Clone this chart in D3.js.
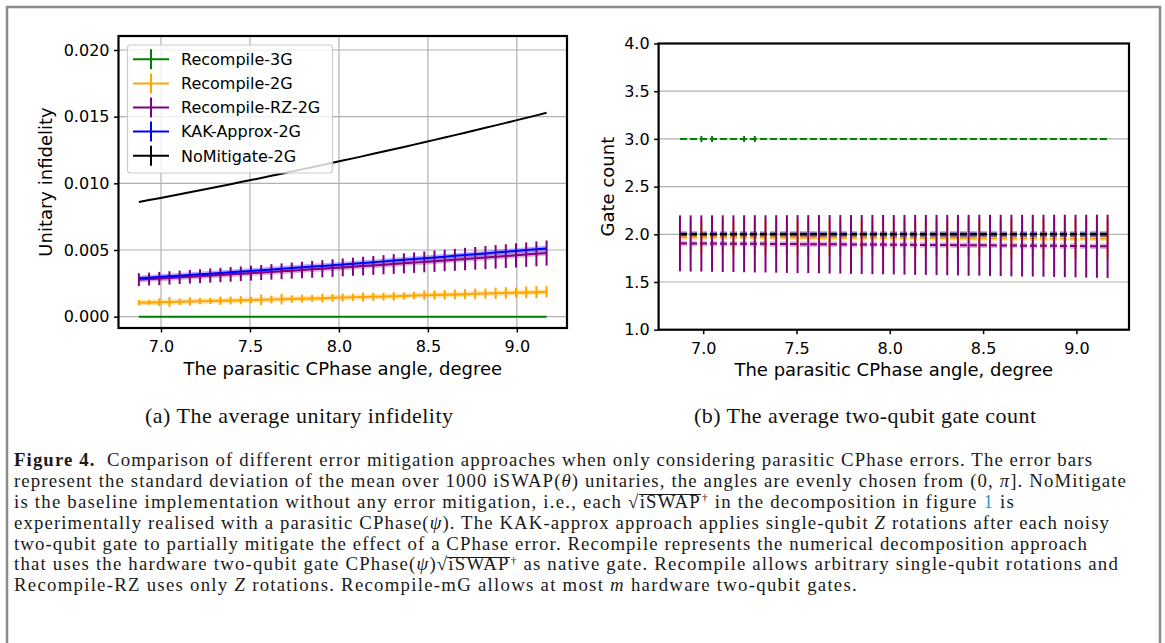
<!DOCTYPE html>
<html>
<head>
<meta charset="utf-8">
<script src="https://cdn.jsdelivr.net/npm/d3@7"></script>
<style>
  html, body { margin: 0; padding: 0; background: #fff; }
  #wrap { position: relative; width: 1165px; height: 643px; overflow: hidden; }
  svg { position: absolute; left: 0; top: 0; }
  .capline {
    position: absolute; left: 14px; white-space: nowrap; height: 20px;
    font-family: "Liberation Serif", "Times New Roman", serif;
    font-size: 18.8px; line-height: 20px; color: #1a1a1a;
  }
  .capline b, .capline i, .capline .ov, .capline .ref { display: inline-block; line-height: 20px; }
  .capline i { font-style: italic; }
  .capline .ov { position: relative; }
  .capline .ov::before {
    content: ""; position: absolute; left: -1px; right: 0; top: 2.6px;
    border-top: 1px solid #1a1a1a;
  }
  .capline .dag { display: inline-block; position: relative; top: -0.58em; font-size: 0.6em; line-height: 0; margin-left: 1px; }
  .capline .ref { color: #2a95d4; }
</style>
</head>
<body>
<div id="wrap">
  <svg id="fig" width="1165" height="643"></svg>
</div>
<script>
// Parasitic CPhase angle (degrees), 41 evenly spaced settings
const angleDeg = [6.8755, 6.9328, 6.9901, 7.0474, 7.1047, 7.1620, 7.2193, 7.2766, 7.3339, 7.3912,
  7.4485, 7.5058, 7.5631, 7.6204, 7.6776, 7.7349, 7.7922, 7.8495, 7.9068, 7.9641,
  8.0214, 8.0787, 8.1360, 8.1933, 8.2506, 8.3079, 8.3652, 8.4225, 8.4798, 8.5371,
  8.5944, 8.6517, 8.7090, 8.7663, 8.8236, 8.8808, 8.9381, 8.9954, 9.0527, 9.1100, 9.1673];

const seriesNames = ["Recompile-3G", "Recompile-2G", "Recompile-RZ-2G", "KAK-Approx-2G", "NoMitigate-2G"];
const seriesColors = ["#008000", "#ffa500", "#800080", "#0000ff", "#000000"];

const xTicks = [7.0, 7.5, 8.0, 8.5, 9.0];
const infidTicks = [0.000, 0.005, 0.010, 0.015, 0.020];
const gateTicks = [1.0, 1.5, 2.0, 2.5, 3.0, 3.5, 4.0];

// (a) average unitary infidelity and its standard deviation
const infid3G = [0, 0, 0, 0, 0, 0, 0, 0, 0, 0, 0, 0, 0, 0, 0, 0, 0, 0, 0, 0, 0,
  0, 0, 0, 0, 0, 0, 0, 0, 0, 0, 0, 0, 0, 0, 0, 0, 0, 0, 0, 0];
const infid3GErr = [0, 0, 0, 0, 0, 0, 0, 0, 0, 0, 0, 0, 0, 0, 0, 0, 0, 0, 0, 0, 0,
  0, 0, 0, 0, 0, 0, 0, 0, 0, 0, 0, 0, 0, 0, 0, 0, 0, 0, 0, 0];
const infid2G = [0.00105, 0.00107, 0.00108, 0.00110, 0.00112, 0.00114, 0.00116, 0.00118, 0.00119, 0.00121,
  0.00123, 0.00125, 0.00127, 0.00129, 0.00131, 0.00133, 0.00135, 0.00137, 0.00139, 0.00141,
  0.00143, 0.00145, 0.00147, 0.00149, 0.00151, 0.00153, 0.00155, 0.00158, 0.00160, 0.00162,
  0.00164, 0.00166, 0.00169, 0.00171, 0.00173, 0.00175, 0.00178, 0.00180, 0.00182, 0.00184, 0.00187];
const infid2GErr = [0.00020, 0.00017, 0.00029, 0.00037, 0.00024, 0.00032, 0.00024, 0.00023, 0.00032, 0.00030,
  0.00031, 0.00024, 0.00041, 0.00029, 0.00040, 0.00028, 0.00030, 0.00026, 0.00033, 0.00029,
  0.00030, 0.00027, 0.00034, 0.00031, 0.00029, 0.00033, 0.00028, 0.00029, 0.00036, 0.00035,
  0.00037, 0.00037, 0.00038, 0.00040, 0.00039, 0.00043, 0.00043, 0.00038, 0.00045, 0.00046, 0.00043];
const infidRZ = [0.002780, 0.002822, 0.002864, 0.002907, 0.002950, 0.002994, 0.003037, 0.003082, 0.003127, 0.003172,
  0.003217, 0.003263, 0.003310, 0.003357, 0.003403, 0.003451, 0.003499, 0.003548, 0.003596, 0.003645,
  0.003695, 0.003745, 0.003795, 0.003846, 0.003897, 0.003949, 0.004000, 0.004053, 0.004106, 0.004159,
  0.004212, 0.004266, 0.004321, 0.004376, 0.004430, 0.004486, 0.004542, 0.004599, 0.004655, 0.004712, 0.004770];
const infidRZErr = [0.00048, 0.00048, 0.00049, 0.00050, 0.00050, 0.00051, 0.00052, 0.00053, 0.00054, 0.00055,
  0.00055, 0.00056, 0.00057, 0.00058, 0.00059, 0.00061, 0.00062, 0.00063, 0.00064, 0.00066,
  0.00067, 0.00068, 0.00070, 0.00071, 0.00072, 0.00074, 0.00075, 0.00077, 0.00078, 0.00080,
  0.00081, 0.00082, 0.00084, 0.00085, 0.00087, 0.00088, 0.00089, 0.00091, 0.00092, 0.00093, 0.00094];
const infidKAK = [0.002880, 0.002928, 0.002977, 0.003026, 0.003075, 0.003125, 0.003175, 0.003226, 0.003277, 0.003328,
  0.003380, 0.003432, 0.003485, 0.003538, 0.003591, 0.003645, 0.003699, 0.003754, 0.003809, 0.003864,
  0.003920, 0.003976, 0.004033, 0.004090, 0.004147, 0.004205, 0.004263, 0.004322, 0.004381, 0.004440,
  0.004500, 0.004560, 0.004621, 0.004682, 0.004743, 0.004805, 0.004867, 0.004930, 0.004993, 0.005056, 0.005120];
const infidKAKErr = [0, 0, 0, 0, 0, 0, 0, 0, 0, 0, 0, 0, 0, 0, 0, 0, 0, 0, 0, 0, 0,
  0, 0, 0, 0, 0, 0, 0, 0, 0, 0, 0, 0, 0, 0, 0, 0, 0, 0, 0, 0];
const infidNoMit = [0.008600, 0.008744, 0.008889, 0.009035, 0.009183, 0.009331, 0.009481, 0.009632, 0.009785, 0.009938,
  0.010093, 0.010249, 0.010406, 0.010564, 0.010723, 0.010884, 0.011046, 0.011209, 0.011373, 0.011538,
  0.011705, 0.011873, 0.012042, 0.012212, 0.012384, 0.012556, 0.012730, 0.012905, 0.013081, 0.013258,
  0.013437, 0.013617, 0.013798, 0.013980, 0.014163, 0.014348, 0.014533, 0.014720, 0.014909, 0.015098, 0.015288];
const infidNoMitErr = [0, 0, 0, 0, 0, 0, 0, 0, 0, 0, 0, 0, 0, 0, 0, 0, 0, 0, 0, 0, 0,
  0, 0, 0, 0, 0, 0, 0, 0, 0, 0, 0, 0, 0, 0, 0, 0, 0, 0, 0, 0];

// (b) average two-qubit gate count and its standard deviation
const gates3G = [3.000, 3.000, 2.999, 2.999, 3.000, 3.000, 2.999, 2.999, 3.000, 3.000,
  3.000, 3.000, 3.000, 3.000, 3.000, 3.000, 3.000, 3.000, 3.000, 3.000,
  3.000, 3.000, 3.000, 3.000, 3.000, 3.000, 3.000, 3.000, 3.000, 3.000,
  3.000, 3.000, 3.000, 3.000, 3.000, 3.000, 3.000, 3.000, 3.000, 3.000, 3.000];
const gates3GErr = [0, 0, 0.0316, 0.0316, 0, 0, 0.0316, 0.0316, 0, 0, 0, 0, 0, 0, 0, 0, 0, 0, 0, 0, 0,
  0, 0, 0, 0, 0, 0, 0, 0, 0, 0, 0, 0, 0, 0, 0, 0, 0, 0, 0, 0];
const gates2G = [1.970, 1.970, 1.969, 1.969, 1.968, 1.968, 1.968, 1.967, 1.967, 1.966,
  1.966, 1.966, 1.965, 1.965, 1.965, 1.964, 1.964, 1.964, 1.963, 1.963,
  1.962, 1.962, 1.962, 1.961, 1.961, 1.961, 1.960, 1.960, 1.959, 1.959,
  1.959, 1.958, 1.958, 1.958, 1.957, 1.957, 1.957, 1.956, 1.956, 1.955, 1.955];
const gates2GErr = [0.1706, 0.1706, 0.1733, 0.1733, 0.1760, 0.1760, 0.1760, 0.1786, 0.1786, 0.1812,
  0.1812, 0.1812, 0.1838, 0.1838, 0.1838, 0.1863, 0.1863, 0.1863, 0.1888, 0.1888,
  0.1912, 0.1912, 0.1912, 0.1936, 0.1936, 0.1936, 0.1960, 0.1960, 0.1983, 0.1983,
  0.1983, 0.2006, 0.2006, 0.2006, 0.2029, 0.2029, 0.2029, 0.2051, 0.2051, 0.2073, 0.2073];
const gatesRZ = [1.905, 1.904, 1.904, 1.903, 1.902, 1.902, 1.901, 1.900, 1.900, 1.899,
  1.898, 1.897, 1.897, 1.896, 1.895, 1.895, 1.894, 1.893, 1.892, 1.892,
  1.891, 1.890, 1.889, 1.889, 1.888, 1.887, 1.886, 1.885, 1.885, 1.884,
  1.883, 1.882, 1.881, 1.881, 1.880, 1.879, 1.878, 1.877, 1.876, 1.875, 1.874];
const gatesRZErr = [0.2932, 0.2946, 0.2946, 0.2960, 0.2973, 0.2973, 0.2987, 0.3000, 0.3000, 0.3013,
  0.3026, 0.3040, 0.3040, 0.3053, 0.3066, 0.3066, 0.3078, 0.3091, 0.3104, 0.3104,
  0.3116, 0.3129, 0.3141, 0.3141, 0.3154, 0.3166, 0.3178, 0.3190, 0.3190, 0.3202,
  0.3214, 0.3226, 0.3238, 0.3238, 0.3250, 0.3261, 0.3273, 0.3284, 0.3296, 0.3307, 0.3318];
const gatesKAK = [2, 2, 2, 2, 2, 2, 2, 2, 2, 2, 2, 2, 2, 2, 2, 2, 2, 2, 2, 2, 2,
  2, 2, 2, 2, 2, 2, 2, 2, 2, 2, 2, 2, 2, 2, 2, 2, 2, 2, 2, 2];
const gatesKAKErr = [0, 0, 0, 0, 0, 0, 0, 0, 0, 0, 0, 0, 0, 0, 0, 0, 0, 0, 0, 0, 0,
  0, 0, 0, 0, 0, 0, 0, 0, 0, 0, 0, 0, 0, 0, 0, 0, 0, 0, 0, 0];
const gatesNoMit = [2, 2, 2, 2, 2, 2, 2, 2, 2, 2, 2, 2, 2, 2, 2, 2, 2, 2, 2, 2, 2,
  2, 2, 2, 2, 2, 2, 2, 2, 2, 2, 2, 2, 2, 2, 2, 2, 2, 2, 2, 2];
const gatesNoMitErr = [0, 0, 0, 0, 0, 0, 0, 0, 0, 0, 0, 0, 0, 0, 0, 0, 0, 0, 0, 0, 0,
  0, 0, 0, 0, 0, 0, 0, 0, 0, 0, 0, 0, 0, 0, 0, 0, 0, 0, 0, 0];

const subCaptions = ["(a) The average unitary infidelity", "(b) The average two-qubit gate count"];
const xLabel = "The parasitic CPhase angle, degree";

const sqrtISwapDag = '√<span class="ov">iSWAP</span><span class="dag">†</span>';
const captionLines = [
  '<b>Figure 4.</b>&nbsp; Comparison of different error mitigation approaches when only considering parasitic CPhase errors. The error bars',
  'represent the standard deviation of the mean over 1000 iSWAP(<i>θ</i>) unitaries, the angles are evenly chosen from (0, <i>π</i>]. NoMitigate',
  'is the baseline implementation without any error mitigation, i.e., each ' + sqrtISwapDag + ' in the decomposition in figure <span class="ref">1</span> is',
  'experimentally realised with a parasitic CPhase(<i>ψ</i>). The KAK-approx approach applies single-qubit <i>Z</i> rotations after each noisy',
  'two-qubit gate to partially mitigate the effect of a CPhase error. Recompile represents the numerical decomposition approach',
  'that uses the hardware two-qubit gate CPhase(<i>ψ</i>)' + sqrtISwapDag + ' as native gate. Recompile allows arbitrary single-qubit rotations and',
  'Recompile-RZ uses only <i>Z</i> rotations. Recompile-mG allows at most <i>m</i> hardware two-qubit gates.'
];
// right end of each caption line (px)
const captionLineEnds = [1093, 1127, 1015, 1110, 1088, 1119, 858];

const svg = d3.select("#fig");
const FONT = "DejaVu Sans, sans-serif";

// outer frame of the figure block
svg.append("path")
  .attr("d", "M7,645 V7 H1160 V645")
  .attr("fill", "none").attr("stroke", "#8c8c8c").attr("stroke-width", 2.5);

function drawPanel(cfg) {
  const g = svg.append("g");
  const x = d3.scaleLinear().domain([6.761, 9.282]).range([cfg.left, cfg.right]);
  const y = d3.scaleLinear().domain(cfg.yDomain).range([cfg.bottom, cfg.top]);

  // grid
  if (cfg.xGrid) {
    g.append("g").selectAll("line").data(xTicks).join("line")
      .attr("x1", d => x(d)).attr("x2", d => x(d))
      .attr("y1", cfg.top).attr("y2", cfg.bottom)
      .attr("stroke", "#b0b0b0").attr("stroke-width", 1.2);
  }
  g.append("g").selectAll("line").data(cfg.yTicks).join("line")
    .attr("x1", cfg.left).attr("x2", cfg.right)
    .attr("y1", d => y(d)).attr("y2", d => y(d))
    .attr("stroke", "#b0b0b0").attr("stroke-width", 1.2);

  const line = d3.line().x((d, i) => x(angleDeg[i])).y(d => y(d));

  // soft halo under the mean curves
  cfg.series.forEach(s => {
    if (!s.halo) return;
    g.append("path").datum(s.values).attr("d", line)
      .attr("fill", "none").attr("stroke", s.color)
      .attr("stroke-opacity", 0.3).attr("stroke-width", 5.5)
      .attr("stroke-dasharray", cfg.dash || null);
  });

  // mean curves with error bars
  cfg.series.forEach(s => {
    g.append("path").datum(s.values).attr("d", line)
      .attr("fill", "none").attr("stroke", s.color)
      .attr("stroke-width", 2)
      .attr("stroke-dasharray", cfg.dash || null);
    const bars = s.values.map((v, i) => ({ a: angleDeg[i], v, e: s.err[i] })).filter(d => d.e > 0);
    g.append("g").selectAll("line").data(bars).join("line")
      .attr("x1", d => x(d.a)).attr("x2", d => x(d.a))
      .attr("y1", d => y(d.v - d.e)).attr("y2", d => y(d.v + d.e))
      .attr("stroke", s.color).attr("stroke-width", 2);
  });

  // axes
  const xa = g.append("g").attr("transform", `translate(0,${cfg.bottom})`)
    .call(d3.axisBottom(x).tickValues(xTicks).tickFormat(d3.format(".1f")).tickSize(4.5).tickPadding(8.5));
  const ya = g.append("g").attr("transform", `translate(${cfg.left},0)`)
    .call(d3.axisLeft(y).tickValues(cfg.yTicks).tickFormat(d3.format(cfg.yFormat)).tickSize(4.5).tickPadding(4.5));
  [xa, ya].forEach(a => {
    a.select(".domain").remove();
    a.selectAll(".tick line").attr("stroke", "#000").attr("stroke-width", 1.5);
    a.selectAll(".tick text").attr("fill", "#000").style("font-family", FONT).style("font-size", "16px");
  });

  // frame
  g.append("rect")
    .attr("x", cfg.left).attr("y", cfg.top)
    .attr("width", cfg.right - cfg.left).attr("height", cfg.bottom - cfg.top)
    .attr("fill", "none").attr("stroke", "#000").attr("stroke-width", 2.2);

  // axis titles
  g.append("text")
    .attr("x", (cfg.left + cfg.right) / 2).attr("y", cfg.bottom + 46.5)
    .attr("text-anchor", "middle")
    .style("font-family", FONT).style("font-size", "18px")
    .text(xLabel);
  g.append("text")
    .attr("transform", `translate(${cfg.yLabelX},${(cfg.top + cfg.bottom) / 2}) rotate(-90)`)
    .attr("text-anchor", "middle")
    .style("font-family", FONT).style("font-size", "18px")
    .text(cfg.yLabel);

  return { g, x, y };
}

const infidSeries = [
  { values: infid3G, err: infid3GErr, halo: false },
  { values: infid2G, err: infid2GErr, halo: true },
  { values: infidRZ, err: infidRZErr, halo: true },
  { values: infidKAK, err: infidKAKErr, halo: true },
  { values: infidNoMit, err: infidNoMitErr, halo: false }
].map((s, i) => ({ ...s, name: seriesNames[i], color: seriesColors[i] }));

const gateSeries = [
  { values: gates3G, err: gates3GErr, halo: false },
  { values: gates2G, err: gates2GErr, halo: true },
  { values: gatesRZ, err: gatesRZErr, halo: true },
  { values: gatesKAK, err: gatesKAKErr, halo: true },
  { values: gatesNoMit, err: gatesNoMitErr, halo: true }
].map((s, i) => ({ ...s, name: seriesNames[i], color: seriesColors[i] }));

const left = drawPanel({
  left: 118.5, right: 567, top: 36, bottom: 328,
  yDomain: [-0.00085, 0.02105], yTicks: infidTicks, yFormat: ".3f",
  xGrid: true, series: infidSeries,
  yLabel: "Unitary infidelity", yLabelX: 52
});

drawPanel({
  left: 658.6, right: 1129, top: 43.5, bottom: 329.7,
  yDomain: [1, 4], yTicks: gateTicks, yFormat: ".1f",
  xGrid: false, series: gateSeries, dash: "7,3",
  yLabel: "Gate count", yLabelX: 613.5
});

// legend of panel (a)
const leg = left.g.append("g");
leg.append("rect")
  .attr("x", 127.5).attr("y", 45).attr("width", 205).attr("height", 128)
  .attr("rx", 3).attr("fill", "#fff").attr("fill-opacity", 0.8)
  .attr("stroke", "#cccccc").attr("stroke-width", 1.2);
const items = leg.selectAll("g.item").data(infidSeries).join("g")
  .attr("class", "item")
  .attr("transform", (d, i) => `translate(0,${59.3 + i * 24.1})`);
items.append("line").attr("x1", 133).attr("x2", 169).attr("y1", 0).attr("y2", 0)
  .attr("stroke", d => d.color).attr("stroke-width", 2);
items.append("line").attr("x1", 151).attr("x2", 151).attr("y1", -10).attr("y2", 10)
  .attr("stroke", d => d.color).attr("stroke-width", 2);
items.append("text").attr("x", 181).attr("y", 5.8)
  .style("font-family", FONT).style("font-size", "16px").attr("fill", "#000")
  .text(d => d.name);

// sub-figure captions
svg.selectAll("text.sub").data(subCaptions).join("text")
  .attr("class", "sub")
  .attr("x", (d, i) => i === 0 ? 299 : 865)
  .attr("y", 422.5)
  .attr("text-anchor", "middle")
  .attr("textLength", (d, i) => i === 0 ? 308 : 342)
  .attr("lengthAdjust", "spacing")
  .style("font-family", "Liberation Serif, serif").style("font-size", "22px")
  .attr("fill", "#111")
  .text(d => d);

// figure caption: 20px line boxes, baseline 16.35px below the box top;
// letter spacing is set per line so each line ends where it should
const capDivs = d3.select("#wrap").selectAll("div.capline").data(captionLines).join("div")
  .attr("class", "capline")
  .style("top", (d, i) => (466.5 + i * 20.85 - 16.35) + "px")
  .html(d => d);
capDivs.each(function (d, i) {
  const w = this.getBoundingClientRect().width;
  const n = this.textContent.length;
  const ls = Math.max(0, (captionLineEnds[i] - 14 - w) / n);
  d3.select(this).style("letter-spacing", ls.toFixed(3) + "px");
});
</script>
</body>
</html>
